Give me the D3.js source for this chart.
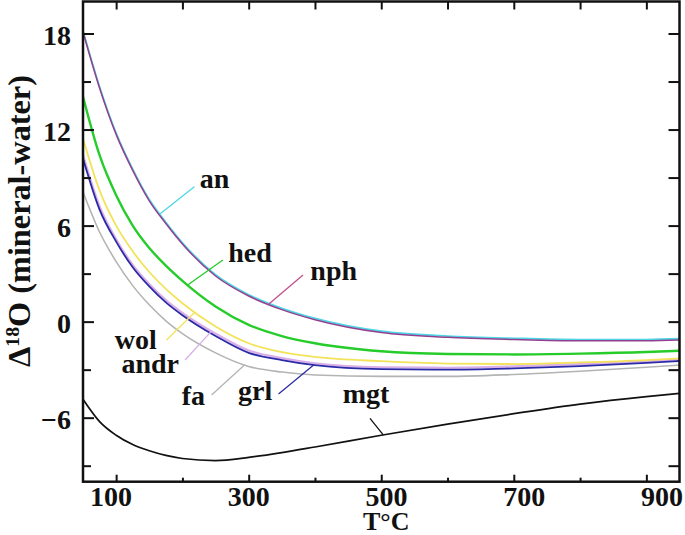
<!DOCTYPE html>
<html>
<head>
<meta charset="utf-8">
<script src="https://cdn.jsdelivr.net/npm/d3@7"></script>
<style>
  body { margin: 0; background: #fff; }
  svg { display: block; }
  text { font-family: "Liberation Serif", "Times New Roman", serif; font-weight: bold; fill: #111; }
</style>
</head>
<body>
<div id="chart"></div>
<script>
const temps = [50, 75, 100, 125, 150, 175, 200, 250, 300, 350, 400, 500, 600, 700, 800, 900, 950]

const nph  = [18.1, 14.6, 11.7, 9.45, 7.55, 6.13, 4.85, 2.85, 1.6, 0.75, 0.12, -0.68, -0.98, -1.12, -1.2, -1.2, -1.15]
const an   = [18.18, 14.68, 11.78, 9.53, 7.63, 6.21, 4.93, 2.93, 1.68, 0.83, 0.2, -0.6, -0.9, -1.04, -1.12, -1.12, -1.07]
const hed  = [14.05, 10.4, 7.9, 6.0, 4.6, 3.5, 2.55, 0.95, -0.2, -0.9, -1.35, -1.85, -2.02, -2.05, -2.0, -1.9, -1.82]
const wol  = [11.44, 8.2, 6.0, 4.4, 3.1, 2.05, 1.15, -0.3, -1.35, -1.9, -2.2, -2.47, -2.62, -2.65, -2.55, -2.4, -2.29]
const andr = [10.4, 7.2, 5.15, 3.55, 2.35, 1.35, 0.55, -0.75, -1.8, -2.28, -2.6, -2.85, -2.88, -2.8, -2.66, -2.48, -2.36]
const grl  = [10.19, 7.0, 5.0, 3.4, 2.2, 1.2, 0.4, -0.9, -1.95, -2.4, -2.72, -2.97, -3.0, -2.92, -2.78, -2.58, -2.46]
const fa   = [8.1, 5.6, 3.75, 2.25, 1.05, 0.05, -0.75, -1.95, -2.8, -3.15, -3.33, -3.42, -3.42, -3.3, -3.1, -2.85, -2.71]
const mgt  = [-4.85, -6.25, -7.1, -7.68, -8.07, -8.36, -8.55, -8.68, -8.48, -8.18, -7.83, -7.1, -6.4, -5.75, -5.15, -4.68, -4.48]

const xMajor = [100, 300, 500, 700, 900]
const xMinor = [200, 400, 600, 800]
const yMajor = [-6, 0, 6, 12, 18]
const yMinor = [-9, -3, 3, 9, 15]

// curve labels: text anchor (T, value), leader start (T, value), leader end T on the curve
const labelNames = ['an', 'hed', 'nph', 'wol', 'andr', 'fa', 'grl', 'mgt']
const labelT     = [226, 269, 393, 98, 108, 199, 284, 442]
const labelV     = [8.33, 3.72, 2.6, -1.72, -3.18, -5.21, -4.9, -5.1]
const leadT0     = [218, 261, 382, 176, 204, 244, 345, 483]
const leadV0     = [8.43, 3.85, 2.91, -1.15, -2.4, -4.58, -4.52, -6.04]
const leadT1     = [166, 208, 330, 219, 244, 294, 398, 503]

const series = [
  { name: 'fa',   values: fa,   color: '#b4b4b4', width: 1.6 },
  { name: 'andr', values: andr, color: '#d9aee9', width: 2.2 },
  { name: 'grl',  values: grl,  color: '#2b2ba6', width: 1.8 },
  { name: 'wol',  values: wol,  color: '#f2e35a', width: 1.8 },
  { name: 'hed',  values: hed,  color: '#26cc2a', width: 2.4 },
  { name: 'an',   values: an,   color: '#4fd6e6', width: 1.8 },
  { name: 'nph',  values: nph,  color: '#93408f', width: 1.5 },
  { name: 'mgt',  values: mgt,  color: '#111111', width: 1.7 },
]
const leaderColor = {
  an: '#4fd6e6', hed: '#26cc2a', nph: '#c0508f', wol: '#f2e35a',
  andr: '#d9aee9', fa: '#b4b4b4', grl: '#2b2ba6', mgt: '#111111'
}

const width = 685
const height = 535
const margin = { top: 1.5, right: 5.5, bottom: 53.3, left: 83 }
const innerW = width - margin.left - margin.right
const innerH = height - margin.top - margin.bottom

const svg = d3.select('#chart')
  .append('svg')
  .attr('width', width)
  .attr('height', height)

const g = svg.append('g')
  .attr('transform', `translate(${margin.left},${margin.top})`)

const x = d3.scaleLinear().domain([50, 950]).range([0, innerW])
const y = d3.scaleLinear().domain([-10, 20]).range([innerH, 0])
// the tick numbers in the figure sit on a slightly wider spacing than the ticks
const xText = d3.scaleLinear().domain([50, 950]).range([-7, 613])

g.append('defs').append('clipPath').attr('id', 'clip')
  .append('rect').attr('width', innerW).attr('height', innerH)

// curves
const line = d3.line()
  .x((d) => x(d[0]))
  .y((d) => y(d[1]))
  .curve(d3.curveMonotoneX)

g.append('g')
  .attr('clip-path', 'url(#clip)')
  .selectAll('path')
  .data(series)
  .enter()
  .append('path')
  .attr('fill', 'none')
  .attr('stroke', (d) => d.color)
  .attr('stroke-width', (d) => d.width)
  .attr('d', (d) => line(temps.map((t, i) => [t, d.values[i]])))

// value of a curve at temperature t (linear between read points)
const valueAt = (values, t) => {
  const i = Math.max(1, d3.bisectLeft(temps, t))
  const t0 = temps[i - 1], t1 = temps[i]
  const k = (t - t0) / (t1 - t0)
  return values[i - 1] + k * (values[i] - values[i - 1])
}
const byName = {}
series.forEach((s) => { byName[s.name] = s.values })

// leaders + labels
labelNames.forEach((name, i) => {
  g.append('line')
    .attr('x1', x(leadT0[i]))
    .attr('y1', y(leadV0[i]))
    .attr('x2', x(leadT1[i]))
    .attr('y2', y(valueAt(byName[name], leadT1[i])))
    .attr('stroke', leaderColor[name])
    .attr('stroke-width', 1.3)

  g.append('text')
    .attr('x', x(labelT[i]))
    .attr('y', y(labelV[i]))
    .attr('font-size', 28)
    .text(name)
})

// axes, ticks pointing inward
const styleAxis = (sel) => {
  sel.select('.domain').remove()
  sel.selectAll('line').attr('stroke', '#111').attr('stroke-width', 2)
  sel.selectAll('text').attr('font-size', 28)
}

g.append('g')
  .attr('transform', `translate(0,${innerH})`)
  .call(d3.axisBottom(x).tickValues(xMajor).tickSize(-7).tickFormat(''))
  .call(styleAxis)
g.append('g')
  .attr('transform', `translate(0,${innerH})`)
  .call(d3.axisBottom(x).tickValues(xMinor).tickSize(-4).tickFormat(''))
  .call(styleAxis)
g.append('g')
  .attr('transform', `translate(0,${innerH})`)
  .call(d3.axisBottom(xText).tickValues(xMajor).tickSize(0).tickPadding(4).tickFormat(d3.format('d')))
  .call(styleAxis)
g.append('g')
  .call(d3.axisTop(x).tickValues(xMajor.concat(xMinor)).tickSize(-8).tickFormat(''))
  .call(styleAxis)

g.append('g')
  .call(d3.axisLeft(y).tickValues(yMajor).tickSize(-11).tickPadding(12).tickFormat(d3.format('d')))
  .call(styleAxis)
  .selectAll('text').attr('dy', '0.4em')
g.append('g')
  .call(d3.axisLeft(y).tickValues(yMinor).tickSize(-8).tickFormat(''))
  .call(styleAxis)
g.append('g')
  .attr('transform', `translate(${innerW},0)`)
  .call(d3.axisRight(y).tickValues(yMajor.concat(yMinor)).tickSize(-11).tickFormat(''))
  .call(styleAxis)

// frame
g.append('rect')
  .attr('width', innerW)
  .attr('height', innerH)
  .attr('fill', 'none')
  .attr('stroke', '#111')
  .attr('stroke-width', 2.5)

// axis titles
svg.append('text')
  .attr('x', margin.left + x(500) + 5)
  .attr('y', 530)
  .attr('text-anchor', 'middle')
  .attr('font-size', 26)
  .text('T°C')

const yTitle = svg.append('text')
  .attr('transform', `translate(30,221) rotate(-90)`)
  .attr('text-anchor', 'middle')
  .attr('font-size', 31)
yTitle.append('tspan').text('Δ')
const sup = yTitle.append('tspan').attr('font-size', 19).attr('dy', -11).text('18')
yTitle.append('tspan').attr('dy', 11).text('O (mineral-water)')

// fit the title to the length it has in the figure
const titleLen = yTitle.node().getComputedTextLength()
const k = 292 / titleLen
yTitle.attr('font-size', 31 * k)
sup.attr('font-size', 19 * k).attr('dy', -11 * k)
yTitle.select('tspan:last-child').attr('dy', 11 * k)
</script>
</body>
</html>
